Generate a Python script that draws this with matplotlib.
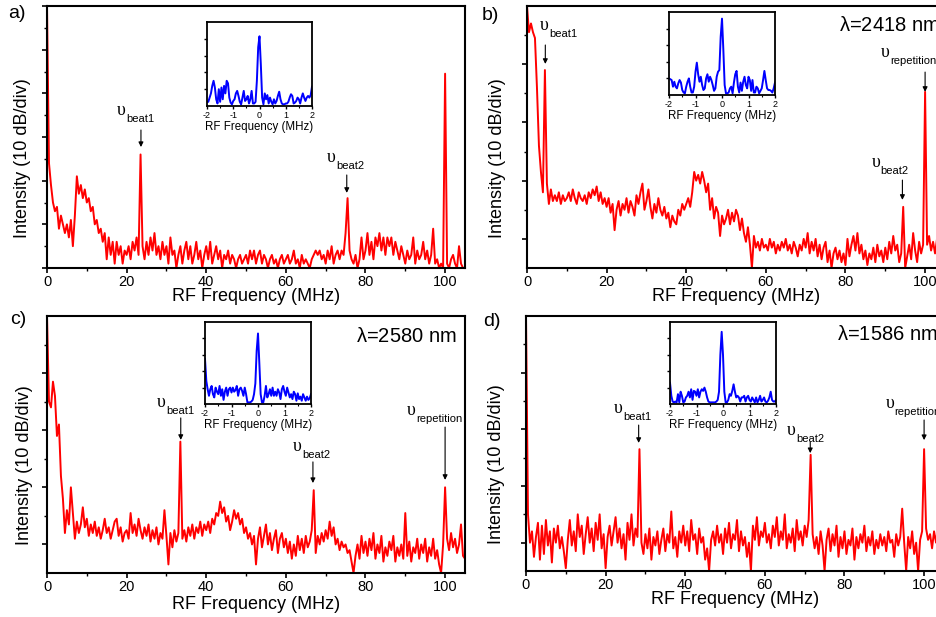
import numpy as np
import matplotlib
matplotlib.use("Agg")
import matplotlib.pyplot as plt
from matplotlib.ticker import MultipleLocator

plt.rcParams['font.family'] = ['Liberation Sans', 'DejaVu Sans']
plt.rcParams['mathtext.fontset'] = 'custom'
plt.rcParams['mathtext.rm'] = 'Liberation Sans'
plt.rcParams['mathtext.it'] = 'Liberation Serif:italic'
plt.rcParams['axes.unicode_minus'] = False

# ---------------- data ----------------
# RF spectra sampled every 0.5 MHz from 0 to 105 MHz (intensity in dB)
freq = np.arange(0, 105.01, 0.5)

spec_a = [
    60, 24, 19, 15, 13, 14, 9, 12, 10, 8, 10, 7, 11, 5, 12, 21, 17, 19, 16, 18,
    15, 16, 13, 14, 10, 11, 8, 9, 6, 8, 2, 7, 3, 6, 1, 6, 3, 5, 1, 4,
    3, 5, 2, 6, 4, 7, 3, 26, 5, 2, 6, 3, 7, 4, 8, 3, 5, 2, 6, 3,
    5, 1, 7, 3, 4, 0, 3, 5, 1, 4, 6, 2, 5, 1, 3, 6, 2, 4, 0, 3,
    5, 2, 6, 1, 3, 5, 2, 4, 0, 3, 2, 4, 1, 3, 2, 0, 2, 3, 1, 2,
    3, 1, 4, 2, 4, 1, 3, 4, 1, 3, 2, 0, 2, 3, 1, 2, 0, 2, 3, 1,
    2, 3, 1, 2, 4, 1, 2, 0, 3, 1, 2, 1, 0, 2, 3, 4, 3, 4, 2, 3,
    1, 4, 2, 5, 1, 3, 4, 2, 4, 3, 8, 16, 4, 2, 1, 3, 0, 2, 7, 2,
    4, 8, 3, 6, 2, 7, 5, 8, 4, 7, 3, 7, 5, 7, 3, 6, 4, 2, 5, 3,
    1, 4, 2, 3, 7, 1, 4, 2, 3, 6, 2, 4, 1, 3, 9, 1, 2, 0, 1, 0,
    44.5, 1, 0, 2, 3, 1, 0, 5, 1, 0, 0,
]

spec_b = [
    90, 81, 84, 81, 79, 62, 42, 33, 26, 68, 29, 22, 27, 23, 25, 23, 26, 22, 25, 23,
    24, 26, 23, 27, 24, 22, 26, 24, 23, 25, 22, 26, 24, 27, 25, 28, 23, 26, 22, 24,
    21, 24, 19, 22, 13, 20, 23, 18, 22, 20, 24, 19, 23, 21, 18, 25, 22, 26, 29, 20,
    23, 27, 21, 17, 22, 19, 24, 20, 18, 21, 17, 19, 14, 18, 16, 15, 20, 18, 22, 20,
    22, 24, 21, 26, 33, 30, 32, 29, 33, 30, 26, 29, 20, 24, 17, 21, 19, 11, 18, 15,
    17, 20, 15, 19, 16, 20, 18, 13, 17, 12, 9, 14, 8, 0, 11, 7, 9, 6, 10, 7,
    8, 6, 10, 7, 9, 5, 8, 6, 9, 7, 10, 6, 8, 5, 9, 7, 4, 8, 6, 10,
    7, 12, 5, 9, 6, 10, 4, 8, 3, 7, 9, 2, 6, 0, 5, 7, 3, 6, 2, 5,
    1, 10, 4, 8, 11, 6, 12, 5, 8, 3, 6, 1, 5, 3, 7, 2, 8, 4, 6, 2,
    7, 3, 9, 5, 11, 6, 8, 2, 5, 21, 0, 4, 8, 3, 12, 6, 2, 9, 5, 8,
    60.5, 8, 11, 6, 9, 5, 10, 7, 12, 8, 10,
]

spec_c = [
    90, 60, 58, 67, 62, 48, 52, 34, 26, 14, 22, 17, 30, 21, 12, 18, 14, 17, 23, 16,
    19, 13, 17, 14, 18, 13, 16, 12, 15, 19, 14, 16, 12, 15, 18, 19, 13, 16, 11, 14,
    15, 12, 21, 14, 17, 13, 19, 15, 12, 16, 13, 17, 11, 15, 12, 16, 10, 14, 12, 22,
    13, 3, 14, 9, 15, 11, 14, 46, 12, 15, 11, 16, 13, 17, 12, 16, 14, 18, 13, 17,
    15, 18, 14, 19, 17, 21, 20, 25, 21, 23, 18, 20, 15, 18, 22, 19, 21, 17, 19, 14,
    16, 12, 14, 10, 13, 3, 12, 16, 9, 13, 17, 10, 14, 8, 12, 15, 7, 12, 14, 9,
    12, 7, 11, 5, 10, 6, 13, 8, 12, 7, 13, 9, 11, 15, 29, 7, 13, 10, 14, 11,
    15, 12, 18, 13, 16, 10, 12, 8, 11, 9, 10, 7, 8, 4, 0, 6, 10, 5, 13, 7,
    11, 6, 12, 8, 14, 5, 10, 7, 13, 4, 9, 6, 11, 8, 13, 4, 9, 6, 10, 5,
    21, 6, 11, 4, 9, 7, 12, 5, 10, 7, 12, 4, 9, 6, 12, 5, 8, 3, 0, 10,
    30, 12, 8, 14, 9, 12, 7, 10, 17, 6, 5,
]

spec_d = [
    90, 20, 10, 14, 5, 12, 17, 4, 16, 6, 18, 9, 14, 3, 15, 10, 16, 8, 12, 7,
    1, 11, 18, 9, 14, 7, 20, 12, 16, 6, 13, 19, 10, 15, 7, 17, 11, 20, 8, 13,
    1, 12, 16, 9, 14, 19, 10, 15, 8, 13, 4, 17, 11, 20, 9, 15, 12, 43, 10, 6,
    13, 8, 15, 4, 12, 9, 14, 6, 11, 15, 7, 13, 10, 21, 8, 12, 5, 14, 10, 16,
    9, 14, 7, 18, 11, 13, 6, 15, 10, 12, 4, 8, 0, 11, 14, 9, 16, 10, 13, 6,
    15, 10, 17, 8, 13, 11, 18, 7, 14, 9, 12, 5, 10, 0, 16, 11, 19, 9, 14, 12,
    17, 10, 13, 8, 16, 12, 19, 9, 14, 11, 20, 8, 13, 10, 15, 7, 18, 11, 14, 9,
    16, 12, 18, 41, 13, 8, 12, 6, 14, 9, 0, 11, 15, 7, 13, 9, 16, 5, 12, 8,
    14, 6, 11, 9, 15, 4, 12, 8, 13, 10, 16, 7, 12, 9, 14, 6, 11, 8, 13, 9,
    12, 7, 14, 10, 11, 5, 13, 9, 12, 22, 10, 0, 12, 8, 14, 6, 10, 0, 11, 14,
    43, 15, 11, 13, 8, 14, 10, 16, 9, 13, 11,
]

# Zoomed spectra around the carrier, -2..2 MHz in 0.05 MHz steps (arb. units)
zoom_freq = np.arange(-2, 2.001, 0.05)

zoom_a = [
    0.5, 0.5, 1.0, 1.5, 2.4, 3.0, 2.2, 0.8, 0.3, 2.0, 0.5, 2.2, 0.8, 2.4, 1.5, 3.0,
    2.7, 1.0, 0.4, 0.2, 0.6, 0.8, 1.5, 1.8, 1.2, 0.5, 0.2, 1.0, 1.8, 0.6, 0.8, 1.2,
    0.3, 0.8, 1.8, 0.3, 0.3, 0.5, 3.0, 7.0, 8.3, 5.0, 1.0, 0.2, 1.5, 0.8, 1.3, 0.3,
    1.0, 0.5, 0.2, 0.8, 0.3, 0.6, 1.2, 1.7, 0.8, 0.3, 0.2, 0.2, 0.3, 0.3, 0.5, 1.0,
    1.4, 1.2, 0.3, 0.4, 0.6, 1.0, 0.8, 0.3, 1.0, 1.5, 1.0, 0.6, 1.0, 1.2, 1.0, 1.3,
    2.3,
]
zoom_b = [
    2.0, 1.9, 1.8, 1.0, 1.6, 1.0, 0.8, 1.4, 1.8, 1.5, 0.6, 0.3, 0.2, 1.0, 1.6, 2.0,
    1.0, 0.3, 0.3, 1.0, 2.8, 3.9, 2.5, 1.6, 2.2, 1.2, 0.6, 0.8, 2.0, 2.5, 1.6, 2.2,
    1.8, 1.2, 0.5, 0.8, 2.2, 2.8, 3.0, 7.0, 9.2, 5.5, 1.2, 0.2, 0.2, 0.3, 0.8, 1.0,
    0.2, 1.5, 2.5, 2.9, 1.0, 0.3, 1.5, 0.5, 1.6, 2.2, 1.2, 0.8, 2.2, 1.8, 0.5, 1.8,
    0.3, 0.3, 1.0, 0.8, 0.2, 0.5, 0.8, 1.8, 2.9, 1.8, 0.8, 0.6, 0.6, 0.5, 0.3, 0.8,
    1.5,
]
zoom_c = [
    5.5, 2.8, 1.8, 1.0, 1.8, 2.2, 1.2, 0.8, 2.0, 1.5, 1.2, 2.2, 1.0, 1.8, 0.5, 1.5,
    2.0, 1.0, 1.8, 2.0, 1.4, 2.0, 1.5, 1.7, 2.2, 1.0, 1.8, 2.0, 1.6, 1.0, 2.0, 1.2,
    0.2, 0.2, 0.2, 0.3, 0.5, 1.2, 2.5, 6.5, 8.6, 5.0, 1.2, 0.2, 0.2, 1.0, 2.2, 0.8,
    1.2, 1.8, 1.0, 2.0, 1.0, 1.5, 1.0, 1.8, 1.4, 0.6, 1.8, 2.2, 1.5, 1.0, 2.0, 1.4,
    0.8, 1.2, 0.6, 1.5, 1.2, 0.4, 1.3, 0.6, 0.9, 0.4, 1.2, 0.8, 0.4, 0.9, 0.5, 0.7,
    1.2,
]
zoom_d = [
    2.6, 1.0, 0.3, 0.2, 0.3, 0.2, 1.2, 0.2, 1.5, 1.0, 0.2, 0.3, 0.8, 1.0, 1.5, 0.8,
    1.8, 0.5, 1.6, 1.5, 1.0, 1.8, 0.8, 1.5, 1.8, 1.6, 2.0, 1.5, 0.8, 0.3, 0.2, 0.2,
    0.2, 0.2, 0.2, 0.3, 0.5, 1.5, 6.0, 8.8, 6.0, 1.5, 0.2, 0.2, 0.5, 1.2, 1.0, 1.6,
    2.4, 1.5, 0.8, 1.0, 0.8, 0.3, 0.8, 0.8, 1.0, 0.3, 0.8, 1.0, 0.5, 0.3, 0.8, 0.5,
    0.2, 0.8, 0.2, 0.5, 1.0, 0.3, 0.5, 0.8, 0.3, 0.2, 0.4, 0.8, 1.5, 0.5, 0.3, 0.3,
    0.5,
]

panel_tags = ['a)', 'b)', 'c)', 'd)']
wavelengths = [None, r'$\mathrm{\lambda}$=2418 nm', r'$\mathrm{\lambda}$=2580 nm',
               r'$\mathrm{\lambda}$=1586 nm']

# ---------------- figure ----------------
W, H = 936, 617
fig = plt.figure(figsize=(W / 100, H / 100), dpi=100)


def frac(x0, y_top, x1, y_bot):
    return [x0 / W, 1 - y_bot / H, (x1 - x0) / W, (y_bot - y_top) / H]


main_boxes = [frac(47, 6, 465, 268), frac(527, 6, 945, 268),
              frac(47, 316, 465, 573), frac(526, 316, 944, 571)]
inset_boxes = [frac(207, 22, 312, 106), frac(669, 12, 775, 95),
               frac(205, 322, 311, 404), frac(670, 322, 776, 404)]
tag_pos = [(8, 14), (482, 15), (10, 320), (483, 321)]
xlabel_y = [-0.078, -0.078, -0.088, -0.078]
ylabel_x = [-0.038, -0.050, -0.034, -0.050]
spectra = [spec_a, spec_b, spec_c, spec_d]
zooms = [zoom_a, zoom_b, zoom_c, zoom_d]
ytop = [60, 90, 90, 90]

# (label, text x, text y, arrow x, arrow tail y, arrow tip y)
notes = [
    [('beat1', 17.6, 35.0, 23.6, 31.6, 27.7),
     ('beat2', 70.4, 24.3, 75.3, 21.3, 17.2)],
    [('beat1', 3.3, 81.8, 4.6, 76.6, 70.1),
     ('repetition', 88.9, 72.6, 100.0, 67.3, 60.5),
     ('beat2', 86.6, 34.8, 94.3, 30.2, 23.4)],
    [('beat1', 27.6, 58.2, 33.6, 54.3, 46.6),
     ('beat2', 61.8, 42.8, 66.8, 38.9, 31.5),
     ('repetition', 90.5, 55.3, 100.0, 51.1, 32.6)],
    [('beat1', 22.1, 55.7, 28.3, 51.5, 45.2),
     ('beat2', 65.6, 48.0, 71.4, 45.5, 41.6),
     ('repetition', 90.3, 57.4, 100.0, 53.3, 46.2)],
]
lam_pos = [None, (78.3, 81.5), (77.6, 81.0), (78.2, 81.5)]

for i in range(4):
    ax = fig.add_axes(main_boxes[i])
    ax.plot(freq, spectra[i], color='#ff0000', lw=1.4)
    ax.set_xlim(0, 105)
    ax.set_ylim(0, ytop[i])
    ax.xaxis.set_major_locator(MultipleLocator(20))
    ax.xaxis.set_minor_locator(MultipleLocator(10))
    if ytop[i] == 60:
        ax.yaxis.set_major_locator(MultipleLocator(10))
        ax.yaxis.set_minor_locator(MultipleLocator(5))
    else:
        ax.set_yticks([10, 30, 50, 70])
        ax.set_yticks([20, 40, 60, 80], minor=True)
    ax.set_yticklabels([])
    ax.tick_params(axis='both', which='major', direction='out', length=3.5,
                   width=1.2, labelsize=10.5, pad=1.5)
    ax.tick_params(axis='both', which='minor', direction='out', length=2,
                   width=1.0)
    for s in ax.spines.values():
        s.set_linewidth(1.5)
    ax.set_xlabel('RF Frequency (MHz)', fontsize=13)
    ax.xaxis.set_label_coords(0.5, xlabel_y[i])
    ax.set_ylabel('Intensity (10 dB/div)', fontsize=13)
    ax.yaxis.set_label_coords(ylabel_x[i], 0.42)

    for name, tx, ty, axx, y0, y1 in notes[i]:
        # upsilon symbol with a smaller, lowered subscript
        ax.text(tx, ty, '\u03c5', fontsize=13, family='Liberation Serif',
                ha='left', va='baseline')
        ax.annotate(name, xy=(tx, ty), xytext=(6.5, -5.0),
                    textcoords='offset points', fontsize=8,
                    ha='left', va='baseline')
        ax.annotate('', xy=(axx, y1), xytext=(axx, y0),
                    arrowprops=dict(arrowstyle='-|>', color='black', lw=0.8,
                                    mutation_scale=7, shrinkA=0, shrinkB=0))
    if wavelengths[i]:
        lx, ly = lam_pos[i]
        ax.text(lx, ly, wavelengths[i], fontsize=14.5, ha='left', va='baseline')

    fig.text(tag_pos[i][0] / W, 1 - tag_pos[i][1] / H, panel_tags[i],
             fontsize=14, ha='left', va='center')

    # inset: close-up of the carrier
    ins = fig.add_axes(inset_boxes[i])
    ins.plot(zoom_freq, zooms[i], color='#0000ff', lw=1.4)
    ins.set_xlim(-2, 2)
    ins.set_ylim(0, 10)
    ins.set_xticks([-2, -1, 0, 1, 2])
    ins.set_xticks([-1.5, -0.5, 0.5, 1.5], minor=True)
    ins.set_yticks([2, 4, 6, 8])
    ins.set_yticklabels([])
    ins.tick_params(axis='both', which='major', direction='out', length=2.5,
                    width=1.0, labelsize=6.5, pad=1)
    ins.tick_params(axis='both', which='minor', direction='out', length=1.5,
                    width=0.8)
    for s in ins.spines.values():
        s.set_linewidth(1.3)
    ins.set_xlabel('RF Frequency (MHz)', fontsize=8.3, labelpad=0.5)

fig.savefig('out.png', dpi=100)
